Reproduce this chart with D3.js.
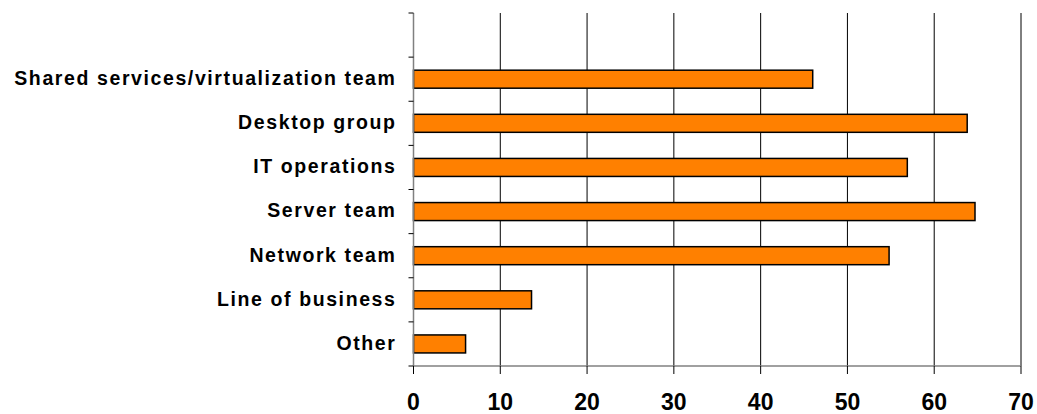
<!DOCTYPE html>
<html>
<head>
<meta charset="utf-8">
<script src="https://cdn.jsdelivr.net/npm/d3@7"></script>
<style>
  body { margin: 0; background: #fff; }
  text { font-family: "Liberation Sans", Arial, sans-serif; font-weight: bold; fill: #000; }
</style>
</head>
<body>
<div id="chart"></div>
<script>
// data
const categories = ["", "Shared services/virtualization team", "Desktop group", "IT operations",
    "Server team", "Network team", "Line of business", "Other"];
const values = [null, 46, 63.8, 56.9, 64.7, 54.8, 13.6, 6];
const xTicks = [0, 10, 20, 30, 40, 50, 60, 70];

// setup
var margin = { top: 13, right: 16, bottom: 48, left: 413.5 },
    width = 1037 - margin.left - margin.right,
    height = 414 - margin.top - margin.bottom;

const svg = d3.select("#chart").append("svg")
    .attr("width", 1037)
    .attr("height", 414)
    .append("g")
    .attr("transform", "translate(" + margin.left + "," + margin.top + ")");

const x = d3.scaleLinear().domain([0, 70]).range([0, 607.5]);
const y = d3.scaleBand().domain(categories.map((c, i) => i)).range([0, height]);

// vertical gridlines
svg.selectAll(".grid")
    .data(xTicks.slice(1))
    .enter().append("line")
    .attr("x1", d => x(d)).attr("x2", d => x(d))
    .attr("y1", 0).attr("y2", height)
    .attr("stroke", "#000").attr("stroke-width", 1);

// bars
const data = categories.map((c, i) => ({ c: c, v: values[i], i: i })).filter(d => d.v != null);
const barH = 18;
svg.selectAll(".bar")
    .data(data)
    .enter().append("rect")
    .attr("x", 0)
    .attr("y", d => y(d.i) + y.bandwidth() / 2 - barH / 2)
    .attr("width", d => x(d.v))
    .attr("height", barH)
    .attr("fill", "#ff8000")
    .attr("stroke", "#000")
    .attr("stroke-width", 1.5);

// y axis
const yAxis = svg.append("g");
yAxis.append("line")
    .attr("x1", 0).attr("x2", 0).attr("y1", 0).attr("y2", height)
    .attr("stroke", "#808080").attr("stroke-width", 1.5);
yAxis.selectAll(".yt")
    .data(d3.range(categories.length + 1))
    .enter().append("line")
    .attr("x1", -5).attr("x2", 0)
    .attr("y1", d => d * y.step()).attr("y2", d => d * y.step())
    .attr("stroke", "#000").attr("stroke-width", 1);
yAxis.selectAll(".yl")
    .data(data)
    .enter().append("text")
    .attr("x", -17)
    .attr("y", d => y(d.i) + y.bandwidth() / 2 - 1)
    .attr("dy", "0.35em")
    .attr("text-anchor", "end")
    .style("font-size", "19.5px")
    .style("letter-spacing", "1.6px")
    .text(d => d.c);

// x axis
const xAxis = svg.append("g").attr("transform", "translate(0," + height + ")");
xAxis.append("line")
    .attr("x1", 0).attr("x2", x(70))
    .attr("stroke", "#808080").attr("stroke-width", 1.5);
xAxis.selectAll(".xt")
    .data(xTicks)
    .enter().append("line")
    .attr("x1", d => x(d)).attr("x2", d => x(d))
    .attr("y1", 0).attr("y2", 8)
    .attr("stroke", "#000").attr("stroke-width", 1);
xAxis.selectAll(".xl")
    .data(xTicks)
    .enter().append("text")
    .attr("x", d => x(d))
    .attr("y", 44)
    .attr("text-anchor", "middle")
    .style("font-size", "23px")
    .text(d => d);
</script>
</body>
</html>
